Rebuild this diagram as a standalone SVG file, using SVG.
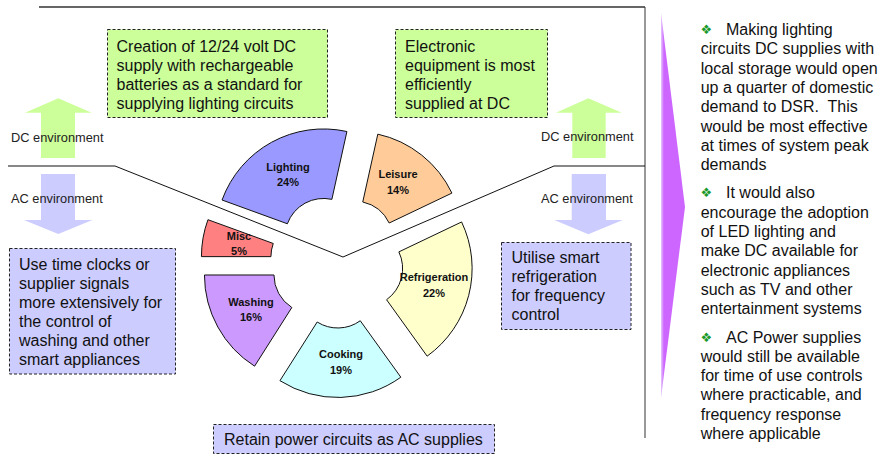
<svg xmlns="http://www.w3.org/2000/svg" width="880" height="455" viewBox="0 0 880 455">
<style>
.box{stroke:#222;stroke-width:1;stroke-dasharray:3,2}
.g{fill:#CCFF99}
.b{fill:#CCCCFF}
.t{font-family:"Liberation Sans",Arial,sans-serif;font-size:16px;fill:#111}
.env{font-family:"Liberation Sans",Arial,sans-serif;font-size:12.8px;fill:#222}
.pl{font-family:"Liberation Sans",Arial,sans-serif;font-size:11px;font-weight:bold;fill:#111;text-anchor:middle}
.seg{stroke:#111;stroke-width:1}
.bul{font-family:"DejaVu Sans",sans-serif;font-size:13px;fill:#1a9a2a}
</style>
<defs>
<linearGradient id="tri" x1="0" y1="0" x2="1" y2="0">
<stop offset="0" stop-color="#E8C8FF"/>
<stop offset="0.12" stop-color="#CC66FF"/>
<stop offset="1" stop-color="#CC66FF"/>
</linearGradient>
</defs>
<rect width="880" height="455" fill="#fff"/>
<g id="frame">
<line x1="39" y1="7" x2="645" y2="7" stroke="#666" stroke-width="2"/>
<line x1="645" y1="7" x2="645" y2="438" stroke="#333" stroke-width="1"/>
</g>
<g id="arrows">
<polygon class="g" points="58.3,98.3 91.7,112.7 75,112.7 75,158 41,158 41,112.7 25,112.7"/>
<polygon class="g" points="588.3,98.3 621.7,112.7 605.7,112.7 605.7,158 572.3,158 572.3,112.7 556,112.7"/>
<polygon class="b" points="41,174 75,174 75,220 92.3,220 58.3,234 24,220 41,220"/>
<polygon class="b" points="571.7,174 606,174 606,220 622.7,220 588.3,234.3 554.3,220 571.7,220"/>
<text class="env" x="11" y="142">DC environment</text>
<text class="env" x="541" y="141">DC environment</text>
<text class="env" x="11" y="203">AC environment</text>
<text class="env" x="541" y="203">AC environment</text>
</g>
<g id="connectors">
<polyline points="8,166 115,166 343,257 554,166 645,166" fill="none" stroke="#111" stroke-width="1"/>
</g>
<g id="pie">
<g id="misc">
<path class="seg" fill="#FF8080" d="M201.43,256.64 A108,108 0 0 1 207.94,219.70 L273.25,243.47 A38.5,38.5 0 0 0 270.93,256.64 Z"/>
<text class="pl" x="239" y="240">Misc</text><text class="pl" x="239" y="254.5">5%</text>
</g>
<g id="lighting">
<path class="seg" fill="#9999FF" d="M222.04,200.01 A108,108 0 0 1 346.91,131.51 L331.86,199.36 A38.5,38.5 0 0 0 287.35,223.78 Z"/>
<text class="pl" x="288" y="170.5">Lighting</text><text class="pl" x="288" y="186">24%</text>
</g>
<g id="leisure">
<path class="seg" fill="#FFCC99" d="M377.81,134.15 A108,108 0 0 1 451.91,193.09 L389.18,223.02 A38.5,38.5 0 0 0 362.76,202.00 Z"/>
<text class="pl" x="398" y="178">Leisure</text><text class="pl" x="398" y="194">14%</text>
</g>
<g id="refrigeration">
<path class="seg" fill="#FFFFCC" d="M461.60,221.96 A108,108 0 0 1 427.14,356.16 L386.59,299.73 A38.5,38.5 0 0 0 398.87,251.89 Z"/>
<text class="pl" x="434" y="281">Refrigeration</text><text class="pl" x="434" y="297">22%</text>
</g>
<g id="cooking">
<path class="seg" fill="#CCFFFF" d="M400.83,377.19 A108,108 0 0 1 279.94,380.68 L317.18,322.00 A38.5,38.5 0 0 0 360.28,320.76 Z"/>
<text class="pl" x="341" y="358">Cooking</text><text class="pl" x="341" y="373.5">19%</text>
</g>
<g id="washing">
<path class="seg" fill="#CC99FF" d="M254.59,366.18 A108,108 0 0 1 204.46,274.99 L273.96,274.99 A38.5,38.5 0 0 0 291.83,307.50 Z"/>
<text class="pl" x="251" y="305.5">Washing</text><text class="pl" x="251" y="320.5">16%</text>
</g>
</g>
<g id="box-dc-lighting">
<rect class="box g" x="107.5" y="29.5" width="220" height="88"/>
<text class="t" x="116.5" y="52">Creation of 12/24 volt DC</text>
<text class="t" x="116.5" y="71">supply with rechargeable</text>
<text class="t" x="116.5" y="90">batteries as a standard for</text>
<text class="t" x="116.5" y="109">supplying lighting circuits</text>
</g>
<g id="box-electronic">
<rect class="box g" x="395.5" y="29.5" width="152" height="88"/>
<text class="t" x="405" y="52">Electronic</text>
<text class="t" x="405" y="71">equipment is most</text>
<text class="t" x="405" y="90">efficiently</text>
<text class="t" x="405" y="109">supplied at DC</text>
</g>
<g id="box-washing">
<rect class="box b" x="9.5" y="248.5" width="166" height="125.5"/>
<text class="t" x="19" y="270">Use time clocks or</text>
<text class="t" x="19" y="289">supplier signals</text>
<text class="t" x="19" y="308">more extensively for</text>
<text class="t" x="19" y="327">the control of</text>
<text class="t" x="19" y="346">washing and other</text>
<text class="t" x="19" y="365">smart appliances</text>
</g>
<g id="box-refrigeration">
<rect class="box b" x="501.5" y="242.5" width="129.5" height="87"/>
<text class="t" x="511.5" y="263">Utilise smart</text>
<text class="t" x="511.5" y="282">refrigeration</text>
<text class="t" x="511.5" y="301">for frequency</text>
<text class="t" x="511.5" y="320">control</text>
</g>
<g id="box-power">
<rect class="box b" x="213.5" y="424.5" width="281" height="29"/>
<text class="t" x="224" y="445">Retain power circuits as AC supplies</text>
</g>
<g id="notes">
<polygon points="661,13 685,207 661,398" fill="url(#tri)"/>
<text class="bul" x="700.5" y="34">❖</text>
<text class="t" x="726" y="35">Making lighting</text>
<text class="t" x="700.7" y="54.3">circuits DC supplies with</text>
<text class="t" x="700.7" y="73.6">local storage would open</text>
<text class="t" x="700.7" y="92.9">up a quarter of domestic</text>
<text class="t" x="700.7" y="112.2">demand to DSR.&#160; This</text>
<text class="t" x="700.7" y="131.5">would be most effective</text>
<text class="t" x="700.7" y="150.8">at times of system peak</text>
<text class="t" x="700.7" y="170.1">demands</text>
<text class="bul" x="700.5" y="197.3">❖</text>
<text class="t" x="726" y="198.3">It would also</text>
<text class="t" x="700.7" y="217.6">encourage the adoption</text>
<text class="t" x="700.7" y="236.9">of LED lighting and</text>
<text class="t" x="700.7" y="256.2">make DC available for</text>
<text class="t" x="700.7" y="275.5">electronic appliances</text>
<text class="t" x="700.7" y="294.8">such as TV and other</text>
<text class="t" x="700.7" y="314.1">entertainment systems</text>
<text class="bul" x="700.5" y="341.7">❖</text>
<text class="t" x="726" y="342.7">AC Power supplies</text>
<text class="t" x="700.7" y="361.9">would still be available</text>
<text class="t" x="700.7" y="381.1">for time of use controls</text>
<text class="t" x="700.7" y="400.3">where practicable, and</text>
<text class="t" x="700.7" y="419.5">frequency response</text>
<text class="t" x="700.7" y="438.7">where applicable</text>
</g>
</svg>
